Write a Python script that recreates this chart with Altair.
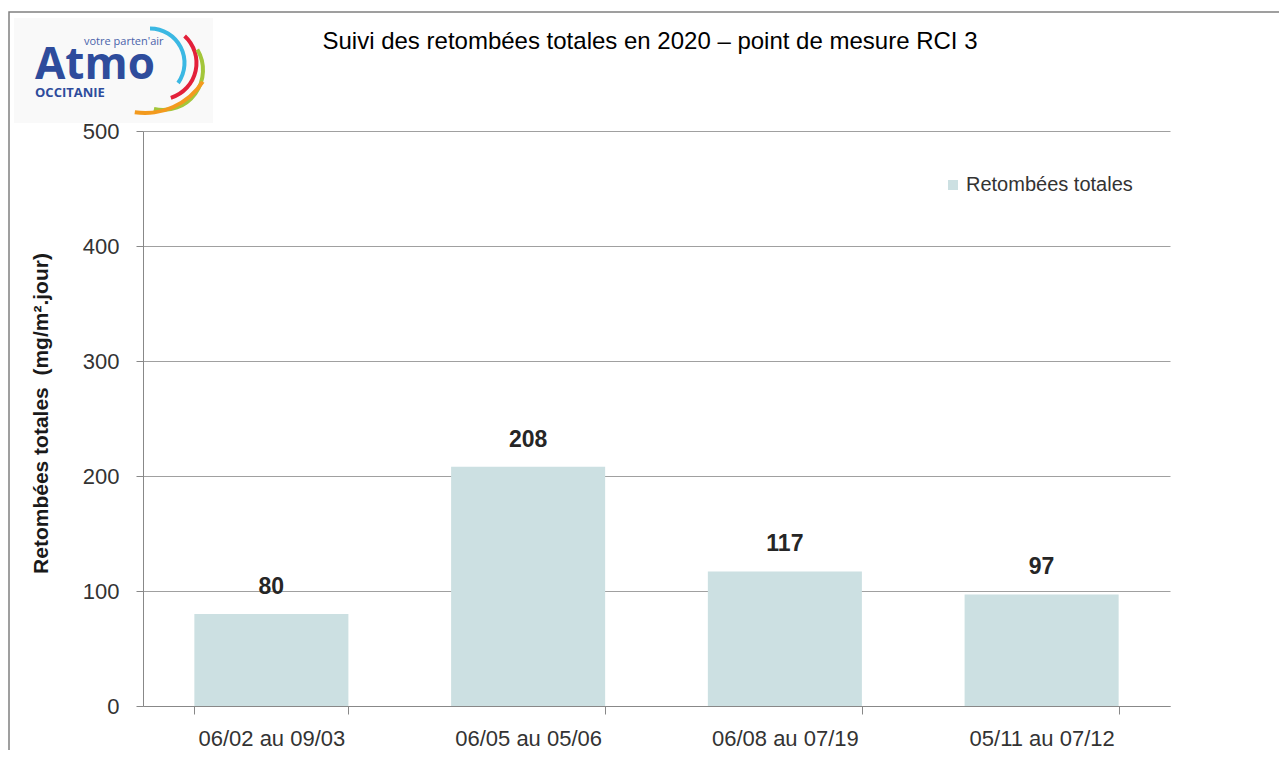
import altair as alt
import pandas as pd

periods = ["06/02 au 09/03", "06/05 au 05/06", "06/08 au 07/19", "05/11 au 07/12"]
values = [80, 208, 117, 97]
series = "Retombées totales"
y_ticks = [0, 100, 200, 300, 400, 500]
title_text = "Suivi des retombées totales en 2020 – point de mesure RCI 3"
y_title = "Retombées totales\u00a0 (mg/m².jour)"

df = pd.DataFrame({"periode": periods, "valeur": values, "serie": [series] * len(periods)})
one = pd.DataFrame({"k": [0]})

FONT = "Liberation Sans, Arial, sans-serif"
LOGO_FONT = "Open Sans, Lato, sans-serif"
W, H = 1027, 575
OX, OY = 143, 131


def px(x):
    return x - OX


def py(y):
    return y - OY


BAR = "#CCE0E2"
BLUE = "#2E4C9C"

xenc = alt.X(
    "periode:N",
    sort=periods,
    scale=alt.Scale(paddingInner=0.4, paddingOuter=0.2),
    axis=alt.Axis(
        title=None, labelAngle=0, labelFont=FONT, labelFontSize=22, labelColor="#333333",
        tickBand="extent", tickSize=8, tickColor="#888888", domainColor="#888888",
        labelPadding=14, grid=False,
    ),
)
yenc = alt.Y(
    "valeur:Q",
    scale=alt.Scale(domain=[0, 500], nice=False),
    axis=alt.Axis(
        values=y_ticks, title=y_title, labelFont=FONT, labelFontSize=22, labelColor="#333333",
        tickSize=7, tickColor="#888888", domainColor="#888888", gridColor="#A0A0A0",
        labelPadding=17, titleFont=FONT, titleFontSize=21, titleFontWeight="bold",
        titleColor="#1A1A1A", titleX=-102, titleY=282, titleAngle=270,
        titleAlign="center", titleBaseline="middle",
    ),
)

bars = alt.Chart(df).mark_bar().encode(
    x=xenc,
    y=yenc,
    color=alt.Color(
        "serie:N",
        scale=alt.Scale(domain=[series], range=[BAR]),
        legend=alt.Legend(
            title=None, orient="none", legendX=800, legendY=44, symbolType="square",
            symbolSize=100, symbolStrokeWidth=0, labelFont=FONT, labelFontSize=20,
            labelColor="#333333", labelLimit=400, labelOffset=3,
        ),
    ),
)

labels = alt.Chart(df).mark_text(
    dy=-27, fontWeight="bold", fontSize=23, font=FONT, color="#262626", baseline="middle"
).encode(
    x=alt.X("periode:N", sort=periods),
    y=alt.Y("valeur:Q"),
    text=alt.Text("valeur:Q"),
)

title = alt.Chart(one).mark_text(
    text=title_text, font=FONT, fontSize=24, color="#000000", align="center", baseline="middle"
).encode(x=alt.value(px(650)), y=alt.value(py(42)))

border = alt.Chart(one).mark_rect(
    fillOpacity=0, stroke="#808080", strokeWidth=1.5
).encode(x=alt.value(px(9)), x2=alt.value(px(1320)), y=alt.value(py(12)), y2=alt.value(py(820)))

logo_bg = alt.Chart(one).mark_rect(fill="#F9F9F9").encode(
    x=alt.value(px(14)), x2=alt.value(px(213)), y=alt.value(py(18)), y2=alt.value(py(123))
)

arcs = []
for cx, cy, r, t1, t2, col in [
    (150, 63, 34.5, 0.0, 2.19, "#3BB8E3"),
    (160, 63, 36.5, 0.74, 2.84, "#E3203A"),
    (163, 70, 40.0, 1.03, 3.37, "#A3C63A"),
    (145, 44, 69.0, 2.15, 3.29, "#F39A1E"),
]:
    arcs.append(
        alt.Chart(one).mark_arc(
            radius=r + 2, radius2=r - 2, theta=t1, theta2=t2, color=col
        ).encode(x=alt.value(px(cx)), y=alt.value(py(cy)))
    )

atmo = alt.Chart(one).mark_text(
    text="Atmo", font=LOGO_FONT, fontSize=44, fontWeight="bold", color=BLUE,
    align="left", baseline="alphabetic"
).encode(x=alt.value(px(35)), y=alt.value(py(79)))
occ = alt.Chart(one).mark_text(
    text="OCCITANIE", font=LOGO_FONT, fontSize=13, fontWeight="bold", color=BLUE,
    align="left", baseline="alphabetic"
).encode(x=alt.value(px(35)), y=alt.value(py(97)))
votre = alt.Chart(one).mark_text(
    text="votre parten'air", font=LOGO_FONT, fontSize=11, color="#4A63AA",
    align="left", baseline="alphabetic"
).encode(x=alt.value(px(84)), y=alt.value(py(45)))

chart = alt.layer(
    bars, labels, title, logo_bg, *arcs, atmo, occ, votre, border
).properties(
    width=W, height=H,
    autosize=alt.AutoSizeParams(type="none"),
    padding={"left": 135, "top": 123, "right": 109, "bottom": 44},
).configure_view(stroke=None)

chart.save("out.html", embed_options={"renderer": "svg", "actions": False})
